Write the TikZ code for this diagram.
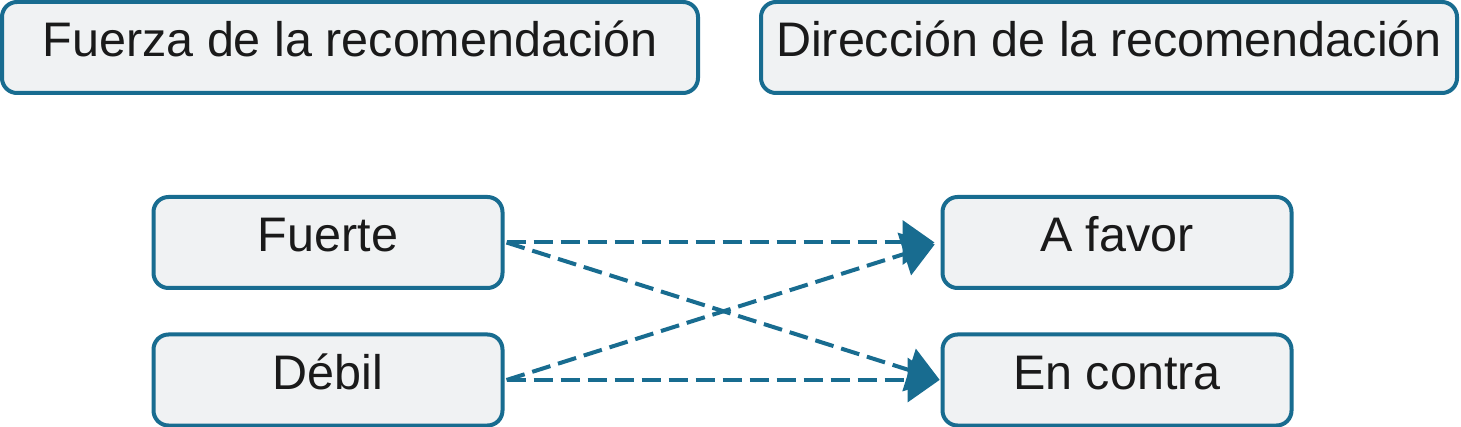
\documentclass[tikz,border=0pt]{standalone}
\usepackage{fontspec}
\setmainfont{Liberation Sans}
\usetikzlibrary{arrows.meta}
\definecolor{bord}{HTML}{186C90}
\definecolor{boxfill}{HTML}{F0F2F3}
\definecolor{txt}{HTML}{1A1A1A}
\begin{document}
\begin{tikzpicture}[x=1pt,y=-1pt,
  box/.style={draw=bord, fill=boxfill, line width=4pt, rounded corners=15pt,
    minimum height=91pt, inner sep=0pt, text=txt,
    font=\fontsize{48.5}{58}\selectfont, text height=36pt, text depth=18pt},
  wide/.style={box, minimum width=696pt},
  small/.style={box, minimum width=349pt},
  conn/.style={draw=bord, line width=4pt, dash pattern=on 19pt off 8pt,
    -{Triangle[length=32pt,width=44pt]}}
]
\useasboundingbox[fill=white] (0,0) rectangle (1461,427);
\node[wide] (fuerza) at (350,47.5) {Fuerza de la recomendación};
\node[wide] (dir) at (1109,47.5) {Dirección de la recomendación};
\node[small] (fuerte) at (328,242.5) {Fuerte};
\node[small] (debil) at (328,380) {Débil};
\node[small] (favor) at (1117,242.5) {A favor};
\node[small] (contra) at (1117,380) {En contra};
\draw[conn, shorten >=6pt] ([xshift=2pt]fuerte.east) -- (favor.west);
\draw[conn, shorten >=1pt] ([xshift=2pt]fuerte.east) -- (contra.west);
\draw[conn, shorten >=6pt] ([xshift=2pt]debil.east) -- (favor.west);
\draw[conn, shorten >=1pt] ([xshift=2pt]debil.east) -- (contra.west);
\end{tikzpicture}
\end{document}
